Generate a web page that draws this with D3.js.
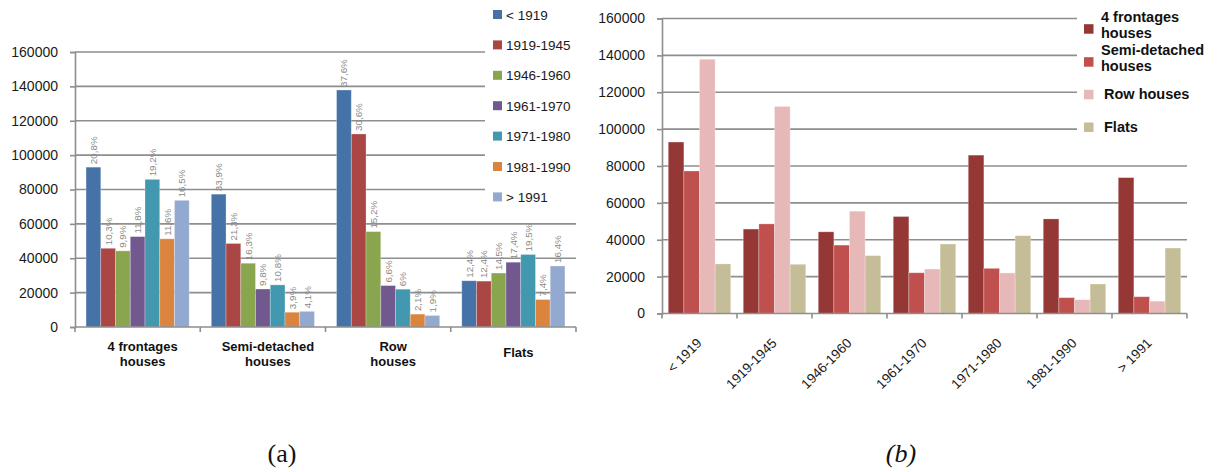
<!DOCTYPE html>
<html>
<head>
<meta charset="utf-8">
<script src="https://cdn.jsdelivr.net/npm/d3@7/dist/d3.min.js"></script>
<style>
  html, body { margin: 0; padding: 0; background: #fff; }
  svg { display: block; }
</style>
</head>
<body>
<svg id="chart" width="1219" height="472"></svg>
<script>
// Dwelling stock by construction period and dwelling type
const periods = ["< 1919", "1919-1945", "1946-1960", "1961-1970", "1971-1980", "1981-1990", "> 1991"];
const types = ["4 frontages houses", "Semi-detached houses", "Row houses", "Flats"];

// Number of dwellings per period, one array per dwelling type
const fourFrontages = [93000, 45800, 44300, 52600, 85900, 51300, 73700];
const semiDetached  = [77300, 48600, 37100, 22100, 24500, 8600, 9100];
const rowHouses     = [137900, 112300, 55500, 24100, 22000, 7500, 6700];
const flats         = [26900, 26700, 31400, 37700, 42200, 16000, 35500];

// Share of each period within a dwelling type
const shareFourFrontages = ["20,8%", "10,3%", "9,9%", "11,8%", "19,2%", "11,6%", "16,5%"];
const shareSemiDetached  = ["33,9%", "21,3%", "16,3%", "9,8%", "10,8%", "3,9%", "4,1%"];
const shareRowHouses     = ["37,6%", "30,6%", "15,2%", "6,6%", "6%", "2,1%", "1,9%"];
const shareFlats         = ["12,4%", "12,4%", "14,5%", "17,4%", "19,5%", "7,4%", "16,4%"];

const yTicks = [0, 20000, 40000, 60000, 80000, 100000, 120000, 140000, 160000];

// Axis labels (broken over lines)
const typeAxisLines = [["4 frontages", "houses"], ["Semi-detached", "houses"], ["Row", "houses"], ["Flats"]];
const typeLegendLines = [["4 frontages", "houses"], ["Semi-detached", "houses"], ["Row houses"], ["Flats"]];

const periodColors = ["#4572a7", "#aa4643", "#89a54e", "#71588f", "#4198af", "#db843d", "#93a9cf"];
const typeColors = ["#953735", "#c0504d", "#e6b9b8", "#c4bd97"];

const valuesByType = [fourFrontages, semiDetached, rowHouses, flats];
const sharesByType = [shareFourFrontages, shareSemiDetached, shareRowHouses, shareFlats];

const svg = d3.select("#chart");
const gridColor = "#8e8e8e";
const tickFont = "'Liberation Sans', Arial, sans-serif";

function drawFrame(g, y, xLeft, xRight, legendBox) {
  // horizontal gridlines
  g.append("g").selectAll("line").data(yTicks.filter(d => d > 0)).join("line")
    .attr("x1", xLeft).attr("x2", xRight)
    .attr("y1", d => y(d)).attr("y2", d => y(d))
    .attr("stroke", gridColor).attr("stroke-width", 1.6);
  // white legend background hides the gridlines it covers
  g.append("rect")
    .attr("x", legendBox.x).attr("y", legendBox.y)
    .attr("width", legendBox.w).attr("height", legendBox.h)
    .attr("fill", "#fff");
  // y axis
  const yAxis = d3.axisLeft(y).tickValues(yTicks).tickSize(5).tickPadding(12).tickFormat(d3.format("d"));
  const ya = g.append("g").attr("transform", `translate(${xLeft},0)`).call(yAxis);
  ya.select(".domain").attr("stroke", gridColor).attr("stroke-width", 1.6);
  ya.selectAll(".tick line").attr("stroke", gridColor).attr("stroke-width", 1.6);
  ya.selectAll(".tick text").attr("fill", "#1a1a1a").style("font-family", tickFont).style("font-size", "14px");
}

function drawBaseline(g, y, x0) {
  const [a, b] = x0.range();
  const bounds = x0.domain().map(d => x0(d)).concat([b]);
  g.append("line").attr("x1", a).attr("x2", b).attr("y1", y(0)).attr("y2", y(0))
    .attr("stroke", gridColor).attr("stroke-width", 1.6);
  g.append("g").selectAll("line").data(bounds).join("line")
    .attr("x1", d => d).attr("x2", d => d)
    .attr("y1", y(0)).attr("y2", y(0) + 5)
    .attr("stroke", gridColor).attr("stroke-width", 1.6);
}

// ---------- (a) dwellings per type, grouped by period ----------
{
  const g = svg.append("g");
  const y = d3.scaleLinear().domain([0, 160000]).range([327, 52]);
  const x0 = d3.scaleBand().domain(types).range([75, 576]).paddingInner(0).paddingOuter(0);
  const x1 = d3.scaleBand().domain(periods).range([0, x0.bandwidth()]).paddingInner(0).paddingOuter(0.75);

  drawFrame(g, y, 75, 576, { x: 485, y: 0, w: 110, h: 205 });

  const rows = [];
  types.forEach((t, ti) => periods.forEach((p, pi) => {
    rows.push({ type: t, period: p, pi, value: valuesByType[ti][pi], share: sharesByType[ti][pi] });
  }));

  g.append("g").selectAll("rect").data(rows).join("rect")
    .attr("x", d => x0(d.type) + x1(d.period))
    .attr("y", d => y(d.value))
    .attr("width", x1.bandwidth())
    .attr("height", d => y(0) - y(d.value))
    .attr("fill", d => periodColors[d.pi])
    .attr("stroke", "rgba(255,255,255,0.35)").attr("stroke-width", 0.8);

  g.append("g").selectAll("text").data(rows).join("text")
    .attr("transform", d => `translate(${x0(d.type) + x1(d.period) + x1.bandwidth() / 2 + 3.5},${y(d.value) - 3}) rotate(-90)`)
    .attr("text-anchor", "start")
    .attr("fill", "#8a8a8a")
    .style("font-family", tickFont).style("font-size", "9.8px")
    .text(d => d.share);

  drawBaseline(g, y, x0);

  // category labels
  const cat = g.append("g").selectAll("text").data(types).join("text")
    .attr("text-anchor", "middle")
    .attr("fill", "#111")
    .style("font-family", "'Liberation Sans', Arial, sans-serif")
    .style("font-size", "13px").style("font-weight", "bold");
  cat.each(function (t, i) {
    const lines = typeAxisLines[i];
    const cx = x0(t) + x0.bandwidth() / 2 + 5;
    const base = lines.length === 1 ? 356.5 : 350.5;
    d3.select(this).selectAll("tspan").data(lines).join("tspan")
      .attr("x", cx).attr("y", (l, k) => base + k * 15).text(l => l);
  });

  // legend
  const lg = g.append("g").selectAll("g").data(periods).join("g")
    .attr("transform", (d, i) => `translate(493,${14.5 + i * 30.4})`);
  lg.append("rect").attr("x", 0).attr("y", -4.5).attr("width", 9).attr("height", 9)
    .attr("fill", (d, i) => periodColors[i]);
  lg.append("text").attr("x", 13).attr("y", 5)
    .attr("fill", "#1a1a1a")
    .style("font-family", tickFont).style("font-size", "13.5px")
    .text(d => d);

  svg.append("text").attr("x", 282).attr("y", 462).attr("text-anchor", "middle")
    .style("font-family", "'Liberation Serif', 'Times New Roman', serif").style("font-size", "26px")
    .attr("fill", "#111").text("(a)");
}

// ---------- (b) dwellings per period, grouped by type ----------
{
  const g = svg.append("g");
  const y = d3.scaleLinear().domain([0, 160000]).range([313.5, 18.5]);
  const x0 = d3.scaleBand().domain(periods).range([662, 1187]).paddingInner(0).paddingOuter(0);
  const x1 = d3.scaleBand().domain(types).range([0, x0.bandwidth()]).paddingInner(0).paddingOuter(0.4);

  drawFrame(g, y, 662, 1187, { x: 1077, y: 0, w: 142, h: 150 });

  const rows = [];
  periods.forEach((p, pi) => types.forEach((t, ti) => {
    rows.push({ type: t, period: p, ti, value: valuesByType[ti][pi] });
  }));

  g.append("g").selectAll("rect").data(rows).join("rect")
    .attr("x", d => x0(d.period) + x1(d.type))
    .attr("y", d => y(d.value))
    .attr("width", x1.bandwidth())
    .attr("height", d => y(0) - y(d.value))
    .attr("fill", d => typeColors[d.ti])
    .attr("stroke", "rgba(255,255,255,0.35)").attr("stroke-width", 0.8);

  drawBaseline(g, y, x0);

  // rotated period labels
  g.append("g").selectAll("text").data(periods).join("text")
    .attr("transform", d => `translate(${x0(d) + x0.bandwidth() / 2 + 3},${344}) rotate(-45)`)
    .attr("text-anchor", "end")
    .attr("fill", "#1a1a1a")
    .style("font-family", tickFont).style("font-size", "13.5px")
    .text(d => d);

  // legend
  const legendY = [28.7, 61.7, 94.3, 127];
  const lg = g.append("g").selectAll("g").data(types).join("g")
    .attr("transform", (d, i) => `translate(1084,${legendY[i]})`);
  lg.append("rect").attr("x", 0).attr("y", -4.5).attr("width", 9.5).attr("height", 9.5)
    .attr("fill", (d, i) => typeColors[i]);
  lg.append("text")
    .attr("fill", "#111")
    .style("font-family", "'Liberation Sans', Arial, sans-serif")
    .style("font-size", "14.5px").style("font-weight", "bold")
    .each(function (d, i) {
      const lines = typeLegendLines[i];
      const top = lines.length === 1 ? 5 : -7;
      d3.select(this).selectAll("tspan").data(lines).join("tspan")
        .attr("x", lines.length === 1 ? 20 : 17)
        .attr("y", (l, k) => top + k * 16).text(l => l);
    });

  svg.append("text").attr("x", 901).attr("y", 462).attr("text-anchor", "middle")
    .style("font-family", "'Liberation Serif', 'Times New Roman', serif").style("font-size", "26px")
    .style("font-style", "italic")
    .attr("fill", "#111").text("(b)");
}
</script>
</body>
</html>
